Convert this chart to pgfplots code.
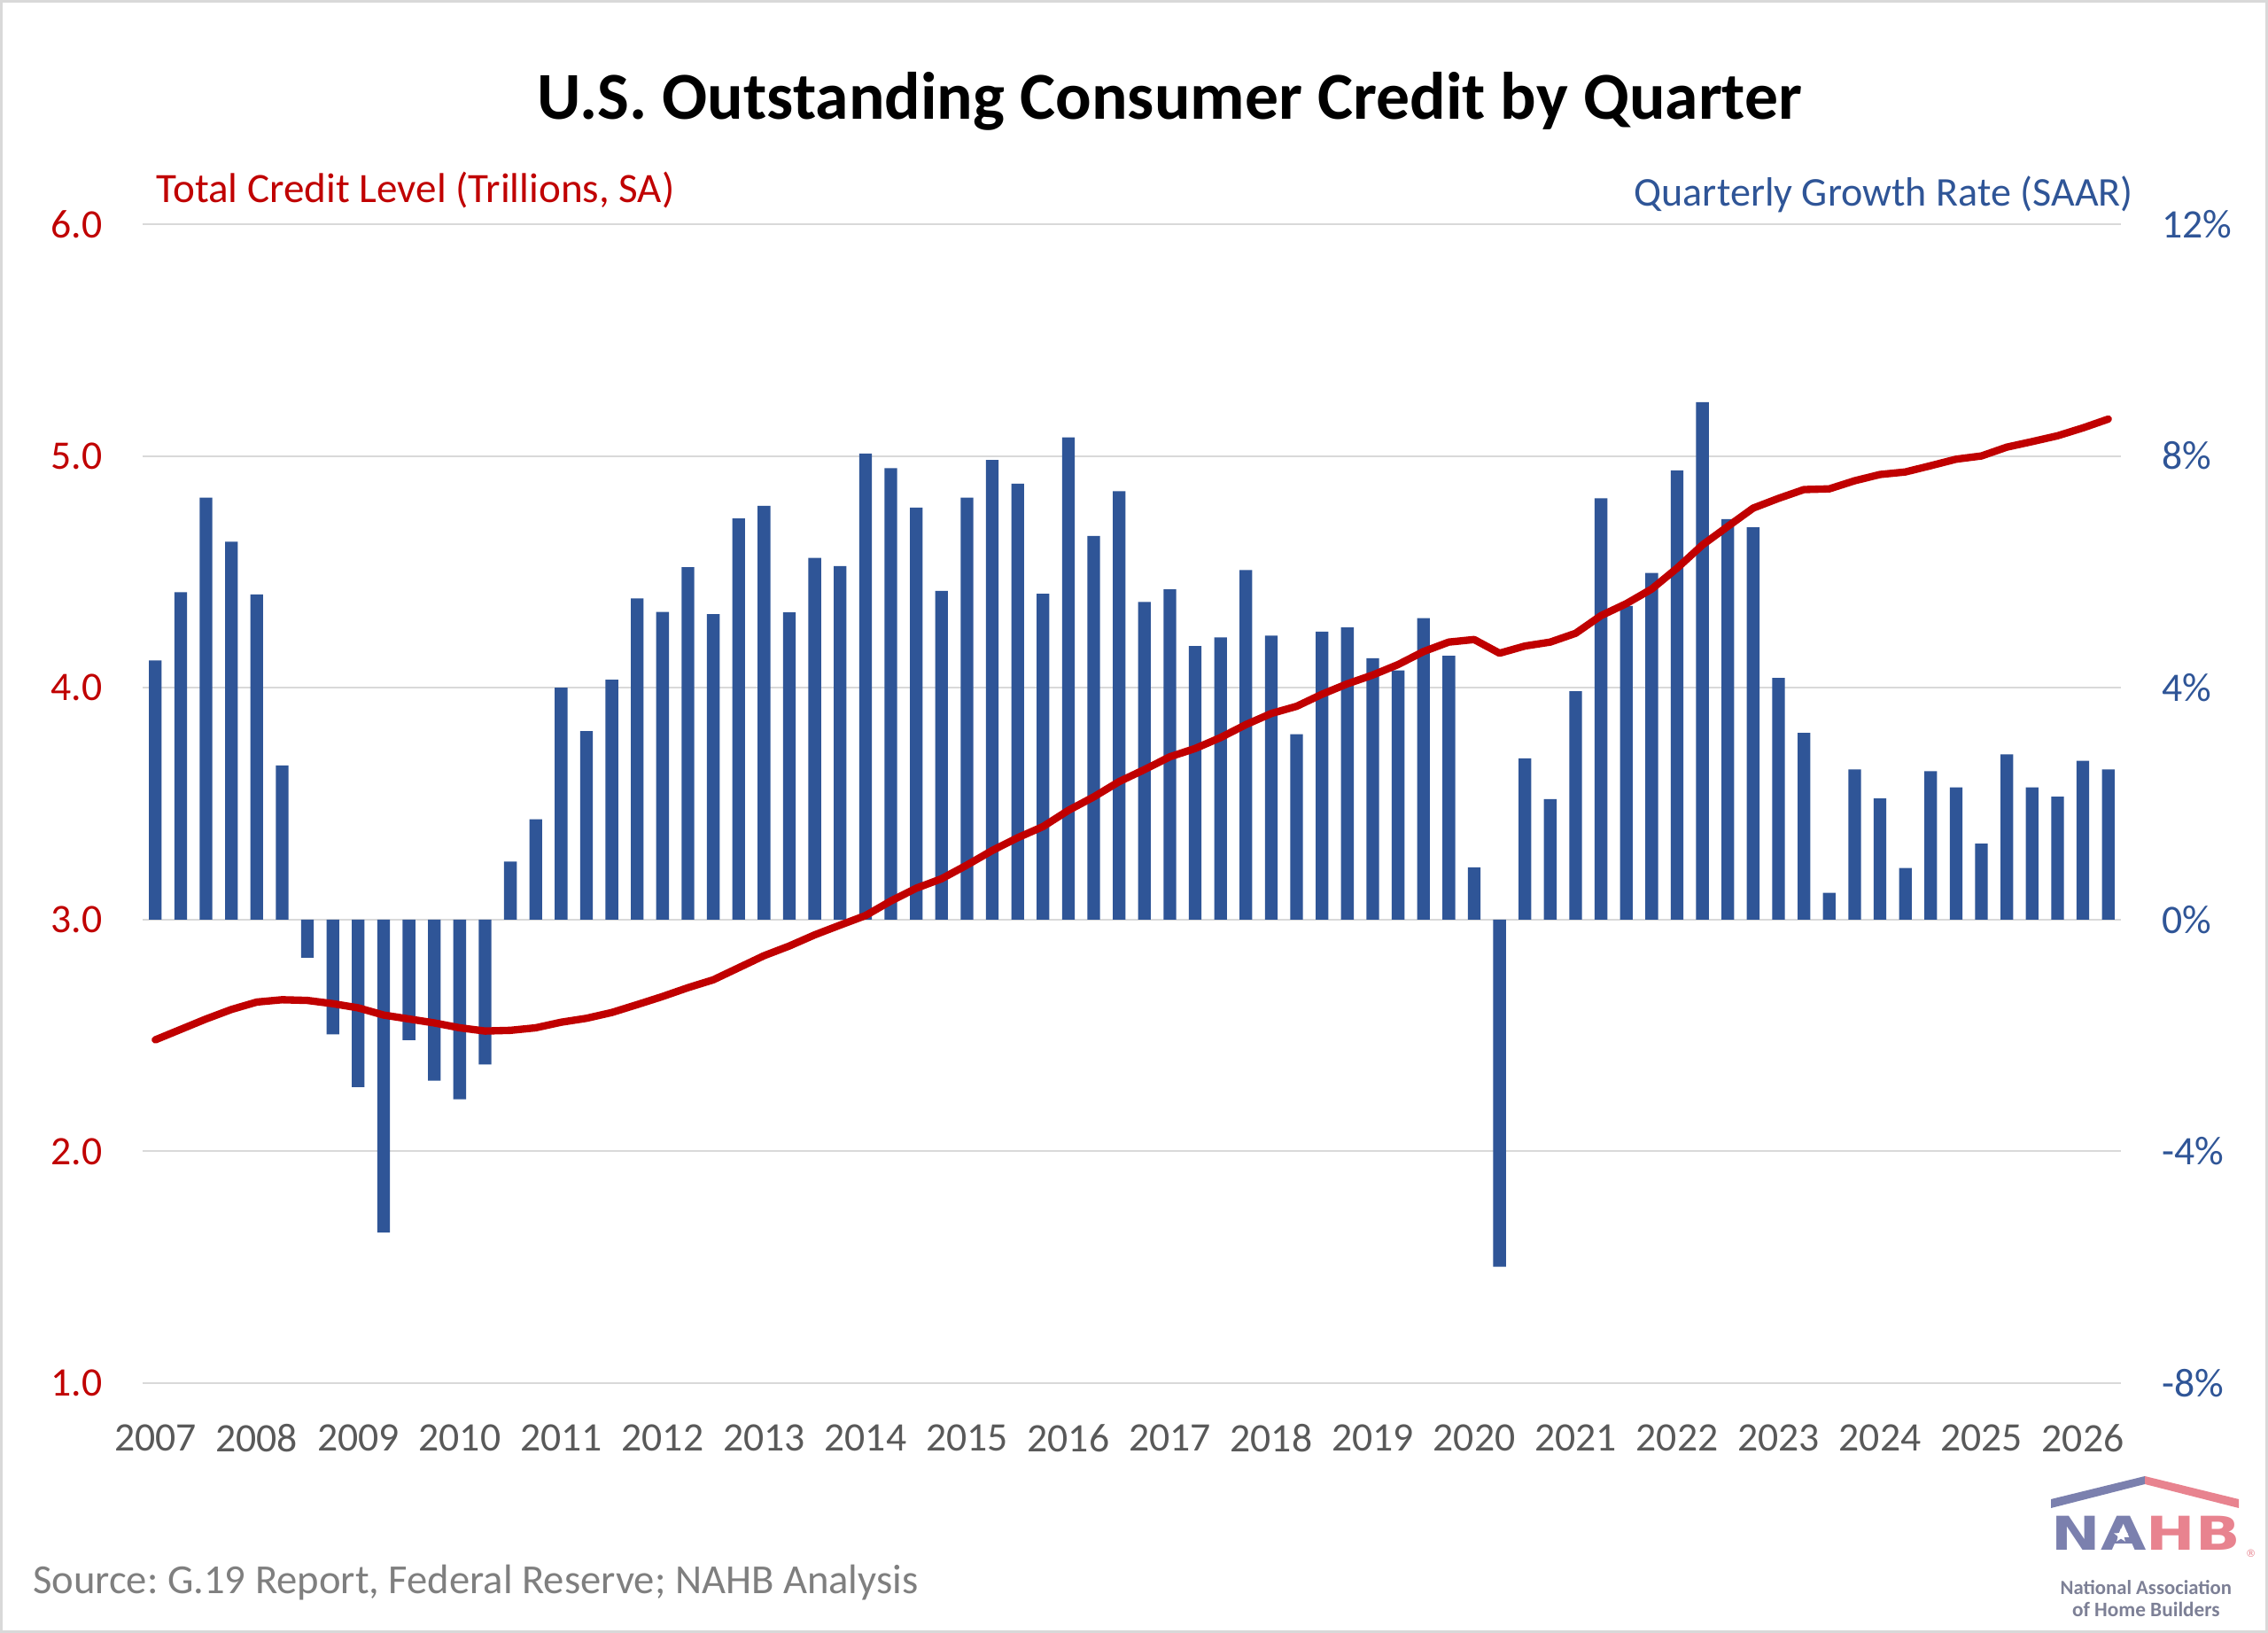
\documentclass[border=0pt]{standalone}
\usepackage{graphicx}
\usepackage{pgfplots}
\usepackage{pgfplotstable}
\pgfplotsset{compat=1.18}
\usetikzlibrary{shapes.geometric}
\usepackage{fontspec}
\setmainfont{Carlito}
\newfontfamily\dejavu{DejaVu Sans}
\definecolor{barblue}{HTML}{2F5597}
\definecolor{linered}{HTML}{C00000}
\definecolor{gridgray}{HTML}{D9D9D9}
\definecolor{ticklab}{HTML}{595959}
\definecolor{srcgray}{HTML}{7F7F7F}
\definecolor{logoblue}{HTML}{7B80AE}
\definecolor{logopink}{HTML}{E8838F}
\definecolor{logotext}{HTML}{7D8096}
\newcommand\ticksize{\fontsize{13.7bp}{16bp}\selectfont}
\frenchspacing

\pgfplotstableread{
x g c
1 4.47 2.481
2 5.65 2.526
3 7.28 2.571
4 6.52 2.612
5 5.61 2.644
6 2.66 2.654
7 -0.66 2.651
8 -1.98 2.637
9 -2.89 2.619
10 -5.40 2.588
11 -2.08 2.571
12 -2.78 2.554
13 -3.10 2.533
14 -2.50 2.519
15 1.00 2.522
16 1.73 2.533
17 4.00 2.557
18 3.25 2.574
19 4.14 2.599
20 5.54 2.633
21 5.31 2.668
22 6.08 2.706
23 5.27 2.740
24 6.92 2.792
25 7.14 2.844
26 5.30 2.886
27 6.24 2.934
28 6.10 2.976
29 8.04 3.017
30 7.79 3.080
31 7.11 3.135
32 5.67 3.176
33 7.28 3.235
34 7.93 3.298
35 7.52 3.353
36 5.62 3.401
37 8.32 3.471
38 6.62 3.529
39 7.39 3.595
40 5.48 3.647
41 5.70 3.702
42 4.72 3.738
43 4.87 3.785
44 6.03 3.841
45 4.90 3.889
46 3.20 3.920
47 4.97 3.972
48 5.04 4.017
49 4.51 4.055
50 4.30 4.100
51 5.20 4.156
52 4.55 4.197
53 0.90 4.208
54 -5.99 4.149
55 2.78 4.180
56 2.08 4.197
57 3.94 4.235
58 7.27 4.311
59 5.41 4.363
60 5.98 4.426
61 7.75 4.516
62 8.93 4.616
63 6.91 4.696
64 6.77 4.775
65 4.17 4.817
66 3.22 4.855
67 0.46 4.858
68 2.59 4.893
69 2.09 4.920
70 0.89 4.931
71 2.56 4.958
72 2.28 4.986
73 1.31 5.000
74 2.85 5.038
75 2.28 5.062
76 2.12 5.087
77 2.74 5.121
78 2.59 5.159
}\datatable

\begin{document}
\begin{tikzpicture}
\useasboundingbox (0,0) rectangle (768bp,552.9bp);
\fill[white] (0,0) rectangle (768bp,552.9bp);

% bars (right axis)
\begin{axis}[
  at={(48.3bp,84.6bp)}, anchor=south west,
  scale only axis, width=669.9bp, height=392.4bp,
  xmin=0.5, xmax=78.5, ymin=-8, ymax=12,
  axis line style={draw=none},
  major tick length=0pt,
  ytick={-8,-4,0,4,8,12},
  yticklabels={-8\%,-4\%,0\%,4\%,8\%,12\%},
  yticklabel pos=right,
  yticklabel style={anchor=west, inner sep=0pt, xshift=13.8bp, text=barblue, font=\ticksize},
  xtick={1,5,9,13,17,21,25,29,33,37,41,45,49,53,57,61,65,69,73,77},
  xticklabels={2007,2008,2009,2010,2011,2012,2013,2014,2015,2016,2017,2018,2019,2020,2021,2022,2023,2024,2025,2026},
  xticklabel style={anchor=north, inner sep=0pt, yshift=-13.8bp, text=ticklab, font=\ticksize},
  ymajorgrids, major grid style={gridgray, line width=0.6bp},
]
\addplot[ybar, bar width=0.5, fill=barblue, draw=none] table[x=x,y=g]{\datatable};
\end{axis}

% line (left axis)
\begin{axis}[
  at={(48.3bp,84.6bp)}, anchor=south west,
  scale only axis, width=669.9bp, height=392.4bp,
  xmin=0.5, xmax=78.5, ymin=1, ymax=6,
  axis line style={draw=none},
  major tick length=0pt,
  xtick=\empty,
  ytick={1,2,3,4,5,6},
  yticklabels={1.0,2.0,3.0,4.0,5.0,6.0},
  yticklabel style={anchor=east, inner sep=0pt, xshift=-13.5bp, text=linered, font=\ticksize},
]
\addplot[linered, mark=none, line width=2.5bp, line cap=round, line join=round] table[x=x,y=c]{\datatable};
\end{axis}

% titles and labels
\node[anchor=base, inner sep=0pt] at (396bp,512.4bp) {\resizebox{428.4bp}{!}{\bfseries U.S. Outstanding Consumer Credit by Quarter}};
\node[anchor=base west, inner sep=0pt, text=linered] at (52.8bp,484.2bp) {\resizebox{175.5bp}{!}{Total Credit Level (Trillions, SA)}};
\node[anchor=base west, inner sep=0pt, text=barblue] at (553.2bp,483bp) {\resizebox{168.9bp}{!}{Quarterly Growth Rate (SAAR)}};
\node[anchor=base west, inner sep=0pt, text=srcgray] at (10.95bp,13.5bp) {\resizebox{299.7bp}{!}{Source: G.19 Report, Federal Reserve; NAHB Analysis}};

% NAHB logo
\fill[logoblue] (694.5bp,45.3bp) -- (726.3bp,53.1bp) -- (726.3bp,50.4bp) -- (694.5bp,42.3bp) -- cycle;
\fill[logopink] (726.3bp,53.1bp) -- (758.1bp,45.3bp) -- (758.1bp,42.3bp) -- (726.3bp,50.4bp) -- cycle;
\node[anchor=base west, inner sep=0pt] at (694.5bp,28.2bp) {\resizebox{63.9bp}{11.5bp}{\dejavu\bfseries\textcolor{logoblue}{NA}\textcolor{logopink}{HB}}};
\node[star, star points=5, star point ratio=2.4, fill=white, draw=none, minimum size=5bp, inner sep=0pt] at (718.2bp,33.0bp) {};
\node[inner sep=0pt, text=logopink] at (762.2bp,26.8bp) {\dejavu\fontsize{3.5bp}{4bp}\selectfont ®};
\node[anchor=base west, inner sep=0pt, text=logotext] at (697.5bp,13.2bp) {\resizebox{58bp}{!}{\bfseries National Association}};
\node[anchor=base west, inner sep=0pt, text=logotext] at (701.5bp,5.6bp) {\resizebox{50bp}{!}{\bfseries of Home Builders}};

% frame
\draw[gridgray, line width=1bp] (0.5bp,0.5bp) rectangle (767.5bp,552.4bp);
\end{tikzpicture}
\end{document}
